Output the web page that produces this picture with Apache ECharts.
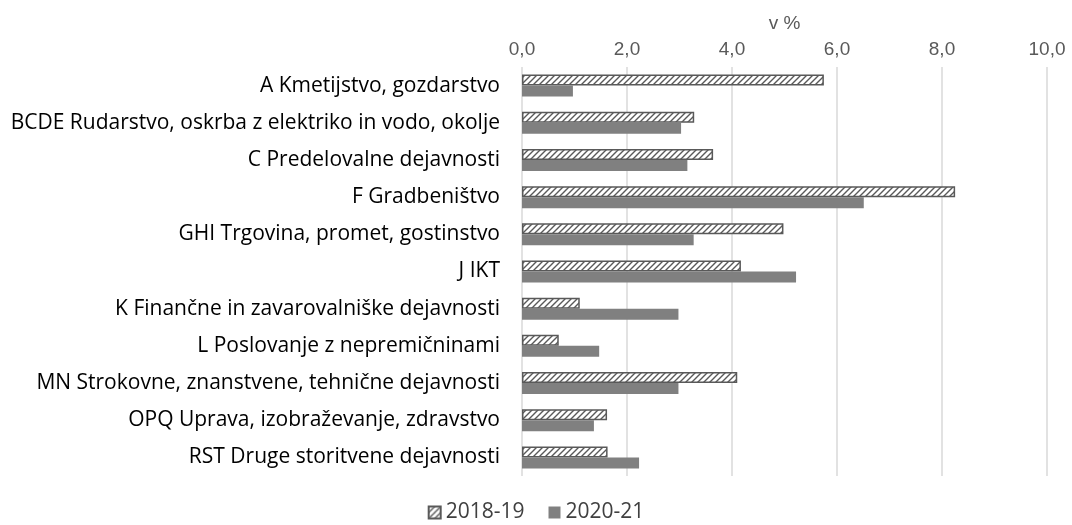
<!DOCTYPE html>
<html>
<head>
    <title>ECharts</title>
    <meta charset="utf-8">
    <script src="https://cdn.jsdelivr.net/npm/echarts@6/dist/echarts.min.js"></script>
</head>
<body style="margin:0">
    <div id="main" style="width:1072px;height:525px"></div>
    <script type="text/javascript">
    // dejavnosti, od zgoraj navzdol
    var categories = [
        'A Kmetijstvo, gozdarstvo',
        'BCDE Rudarstvo, oskrba z elektriko in vodo, okolje',
        'C Predelovalne dejavnosti',
        'F Gradbeništvo',
        'GHI Trgovina, promet, gostinstvo',
        'J IKT',
        'K Finančne in zavarovalniške dejavnosti',
        'L Poslovanje z nepremičninami',
        'MN Strokovne, znanstvene, tehnične dejavnosti',
        'OPQ Uprava, izobraževanje, zdravstvo',
        'RST Druge storitvene dejavnosti'
    ];
    var values1819 = [5.75, 3.28, 3.64, 8.25, 4.98, 4.17, 1.10, 0.70, 4.10, 1.62, 1.63];
    var values2021 = [0.97, 3.03, 3.15, 6.51, 3.27, 5.22, 2.98, 1.47, 2.98, 1.37, 2.23];
    var seriesNames = ['2018-19', '2020-21'];

    // šrafura za 2018-19
    var hatch = document.createElement('canvas');
    hatch.width = 6; hatch.height = 6;
    var ctx = hatch.getContext('2d');
    ctx.fillStyle = '#ffffff';
    ctx.fillRect(0, 0, 6, 6);
    ctx.strokeStyle = '#595959';
    ctx.lineWidth = 1.4;
    ctx.beginPath();
    ctx.moveTo(-1, 7); ctx.lineTo(7, -1);
    ctx.moveTo(-4, 4); ctx.lineTo(4, -4);
    ctx.moveTo(2, 10); ctx.lineTo(10, 2);
    ctx.stroke();

    var myChart = echarts.init(document.getElementById('main'));
    var option = {
        animation: false,
        textStyle: { fontFamily: 'Liberation Sans' },
        grid: { left: 522, right: 25, top: 67, bottom: 49 },
        legend: {
            top: 497,
            left: 'center',
            icon: 'rect',
            itemWidth: 12,
            itemHeight: 12,
            itemGap: 24,
            textStyle: { fontSize: 21, color: '#404040', fontFamily: 'Open Sans' },
            data: seriesNames
        },
        xAxis: {
            type: 'value',
            position: 'top',
            min: 0, max: 10, interval: 2,
            name: 'v %',
            nameLocation: 'middle',
            nameGap: 34,
            nameTextStyle: { fontSize: 19, color: '#595959' },
            axisLine: { show: false },
            axisTick: { show: false },
            axisLabel: {
                fontSize: 19, color: '#595959', margin: 8,
                formatter: function (v) { return v.toFixed(1).replace('.', ','); }
            },
            splitLine: { lineStyle: { color: '#d9d9d9', width: 1.5 } }
        },
        yAxis: {
            type: 'category',
            inverse: true,
            data: categories,
            axisLine: { show: false },
            axisTick: { show: false },
            axisLabel: { fontSize: 21, color: '#000000', margin: 22, fontFamily: 'Open Sans' }
        },
        series: [
            {
                name: seriesNames[0],
                type: 'bar',
                data: values1819,
                barWidth: 11,
                barGap: '0%',
                itemStyle: {
                    color: { image: hatch, repeat: 'repeat' },
                    borderColor: '#595959',
                    borderWidth: 1.5
                }
            },
            {
                name: seriesNames[1],
                type: 'bar',
                data: values2021,
                barWidth: 11,
                itemStyle: { color: '#808080' }
            }
        ]
    };
    myChart.setOption(option);
    </script>
</body>
</html>
